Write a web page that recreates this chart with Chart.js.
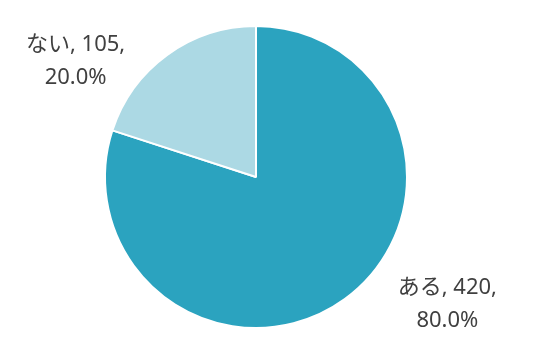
<!DOCTYPE html>
<html>
<head>
<meta charset="utf-8">
<script src="https://cdn.jsdelivr.net/npm/chart.js@4"></script>
<style>
html,body{margin:0;padding:0;background:#fff;}
#wrap{width:536px;height:347px;}
</style>
</head>
<body>
<div id="wrap"><canvas id="c" width="536" height="347"></canvas></div>
<script>
const categories = ['ある', 'ない'];
const counts = [420, 105];
const percentLabels = ['80.0%', '20.0%'];
const colors = ['#2ba3bf', '#acd9e4'];

const labelPlugin = {
  id: 'outLabels',
  afterDatasetsDraw(chart) {
    const ctx = chart.ctx;
    const meta = chart.getDatasetMeta(0);
    ctx.save();
    ctx.font = '22px "Noto Sans", "Noto Sans CJK JP", sans-serif';
    ctx.fillStyle = '#404040';
    ctx.textBaseline = 'middle';
    ctx.textAlign = 'center';
    meta.data.forEach((arc, i) => {
      const p = arc.getProps(['x', 'y', 'startAngle', 'endAngle', 'outerRadius'], true);
      const mid = (p.startAngle + p.endAngle) / 2;
      const ox = p.x + Math.cos(mid) * p.outerRadius;
      const oy = p.y + Math.sin(mid) * p.outerRadius;
      const line1 = categories[i] + ', ' + counts[i] + ',';
      const line2 = percentLabels[i];
      const w = ctx.measureText(line1).width;
      const right = Math.cos(mid) >= 0;
      const gap = right ? 53 : 42;
      const cx = right ? ox + gap + w / 2 : ox - gap - w / 2;
      const cy = oy + (right ? 5 : 6);
      ctx.fillText(line1, cx, cy - 16);
      ctx.fillText(line2, cx, cy + 17);
    });
    ctx.restore();
  }
};

new Chart(document.getElementById('c'), {
  type: 'pie',
  data: {
    labels: categories,
    datasets: [{
      data: counts,
      backgroundColor: colors,
      borderColor: '#ffffff',
      borderWidth: 2
    }]
  },
  options: {
    responsive: false,
    animation: false,
    layout: { padding: { top: 25, bottom: 18, left: 0, right: 24 } },
    plugins: { legend: { display: false }, tooltip: { enabled: false } }
  },
  plugins: [labelPlugin]
});
</script>
</body>
</html>
